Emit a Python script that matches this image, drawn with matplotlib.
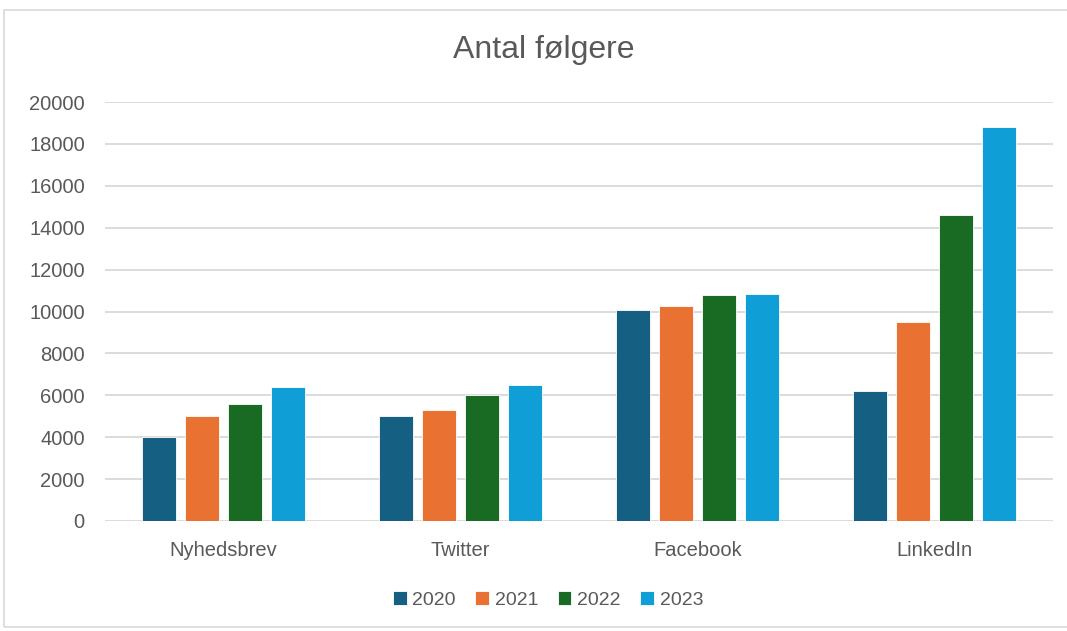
import numpy as np
import matplotlib.pyplot as plt
from matplotlib.patches import Rectangle

# data
categories = ['Nyhedsbrev', 'Twitter', 'Facebook', 'LinkedIn']
years = ['2020', '2021', '2022', '2023']
v2020 = [4000, 5030, 10080, 6200]
v2021 = [5030, 5300, 10280, 9500]
v2022 = [5600, 6000, 10780, 14600]
v2023 = [6420, 6480, 10840, 18800]
colors = ['#156082', '#E97132', '#196B24', '#0F9ED5']

plt.rcParams['font.family'] = ['Liberation Sans', 'DejaVu Sans']
text_col = '#595959'

fig = plt.figure(figsize=(10.67, 6.31), dpi=100)
ax = fig.add_axes([105 / 1067, 1 - 521 / 631, 948 / 1067, 419 / 631])

x = np.arange(len(categories))
pitch = 0.1814
width = 0.1435
series = [v2020, v2021, v2022, v2023]
for i, (vals, yr) in enumerate(zip(series, years)):
    ax.bar(x + (i - 1.5) * pitch, vals, width, color=colors[i], label=yr,
           edgecolor='white', linewidth=0.6, zorder=3)

ax.set_xlim(-0.5, 3.5)
ax.set_ylim(0, 20000)
ax.set_yticks(np.arange(0, 20001, 2000))
ax.set_xticks(x)
ax.set_xticklabels(categories)
ax.grid(axis='y', color='#D9D9D9', linewidth=1.3, zorder=0)
for s in ax.spines.values():
    s.set_visible(False)
ax.tick_params(axis='both', length=0, colors=text_col, labelsize=14.5)
ax.tick_params(axis='y', pad=14.5)
ax.tick_params(axis='x', pad=14.5)

fig.text(0.510, 1 - 50 / 631, 'Antal følgere', ha='center', va='center',
         fontsize=23, color=text_col)

leg = fig.legend(loc='center', bbox_to_anchor=(548 / 1067, 1 - 600 / 631),
                 ncol=4, frameon=False, fontsize=14, handlelength=0.7,
                 handleheight=0.7, handletextpad=0.3, columnspacing=1.0)
for t in leg.get_texts():
    t.set_color(text_col)

fig.patches.append(Rectangle((4 / 1067, 1 - 627 / 631), 1.0, 617 / 631,
                             transform=fig.transFigure, fill=False,
                             edgecolor='#D9D9D9', linewidth=1.2))

fig.savefig('out.png', dpi=100)
